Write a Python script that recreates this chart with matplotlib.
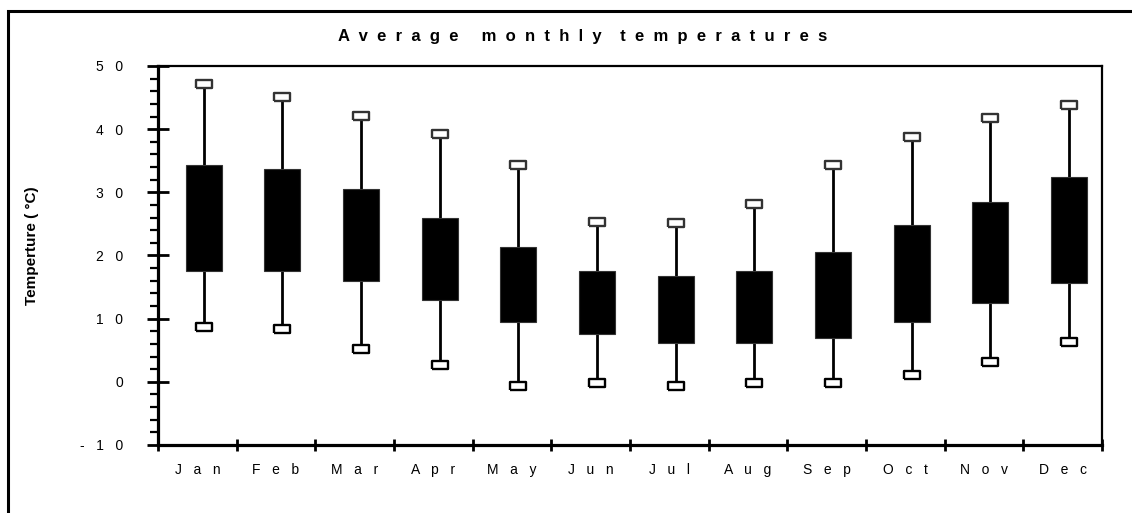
import numpy as np
import matplotlib.pyplot as plt
from matplotlib.patches import Rectangle
from matplotlib.ticker import FixedLocator, MultipleLocator

plt.rcParams['font.family'] = ['Liberation Sans', 'DejaVu Sans']

months = ['Jan', 'Feb', 'Mar', 'Apr', 'May', 'Jun',
          'Jul', 'Aug', 'Sep', 'Oct', 'Nov', 'Dec']
t_max = [47.1, 45.1, 42.1, 39.2, 34.4, 25.3, 25.2, 28.1, 34.4, 38.7, 41.7, 43.8]
t_q3 = [34.4, 33.7, 30.6, 26.0, 21.3, 17.5, 16.7, 17.5, 20.5, 24.8, 28.4, 32.4]
t_q1 = [17.6, 17.6, 15.9, 13.0, 9.5, 7.5, 6.2, 6.2, 7.0, 9.5, 12.5, 15.6]
t_min = [8.7, 8.3, 5.2, 2.7, -0.6, -0.2, -0.6, -0.2, -0.2, 1.0, 3.1, 6.3]
y_ticks = [-10, 0, 10, 20, 30, 40, 50]


def spaced(s, gap='   '):
    # wide letter spacing, as in the old chart package
    return gap.join(s)


fig = plt.figure(figsize=(11.32, 5.13), dpi=100)
ax = fig.add_axes([0.1396, 0.1326, 0.8339, 0.7388])

x = np.arange(len(months)) + 0.58
q1 = np.array(t_q1)
q3 = np.array(t_q3)

# whiskers
ax.vlines(x, q3, t_max, color='black', linewidth=2, zorder=2)
ax.vlines(x, t_min, q1, color='black', linewidth=2, zorder=2)
# boxes
ax.bar(x, q3 - q1, bottom=q1, width=0.46, color='black',
       edgecolor='#333333', linewidth=0.8, zorder=3)
# open rectangular end caps
cap = [(-1, -0.5), (1, -0.5), (1, 0.5), (-1, 0.5), (-1, -0.5)]
ax.plot(x, t_max, linestyle='none', marker=cap, markersize=12,
        markerfacecolor='white', markeredgecolor='#333333',
        markeredgewidth=1.7, zorder=4)
ax.plot(x, t_min, linestyle='none', marker=cap, markersize=12,
        markerfacecolor='white', markeredgecolor='black',
        markeredgewidth=1.7, zorder=4)

ax.set_xlim(0, 12)
ax.set_ylim(-10, 50)

# y axis
ax.yaxis.set_major_locator(FixedLocator(y_ticks))
ax.yaxis.set_minor_locator(MultipleLocator(2))
ax.set_yticklabels([spaced(str(v)) for v in y_ticks])
ax.tick_params(axis='y', which='major', direction='inout', length=16.5,
               width=2, pad=17, labelsize=10)
ax.tick_params(axis='y', which='minor', direction='out', length=6,
               width=1.6)

# x axis: boundary ticks, month names centred between them
ax.xaxis.set_major_locator(FixedLocator(np.arange(13)))
ax.xaxis.set_minor_locator(FixedLocator(np.arange(12) + 0.5))
ax.set_xticklabels([])
ax.set_xticklabels([spaced(m) for m in months], minor=True)
ax.tick_params(axis='x', which='major', direction='inout', length=8.5,
               width=2)
ax.tick_params(axis='x', which='minor', length=0, pad=13, labelsize=10)

ax.spines['left'].set_linewidth(2.3)
ax.spines['bottom'].set_linewidth(2.3)
ax.spines['top'].set_linewidth(1.6)
ax.spines['right'].set_linewidth(1.6)

title = ('     '.join([spaced('Average', '  '), spaced('monthly', '  ')])
         + '    ' + spaced('temperatures', '  '))
fig.text(338 / 1132, 1 - 36 / 513, title, ha='left', va='center',
         fontsize=12, fontweight='bold')
fig.text(32 / 1132, 1 - 246 / 513, 'Temperture ( °C)', rotation=90,
         ha='center', va='center', fontsize=11, fontweight='bold')

# outer frame around the whole chart
fig.add_artist(Rectangle((8 / 1132, -0.2), 1.2, 1.2 - 11 / 513,
                         transform=fig.transFigure, fill=False,
                         edgecolor='black', linewidth=2.2))

fig.savefig('out.png', dpi=100)
